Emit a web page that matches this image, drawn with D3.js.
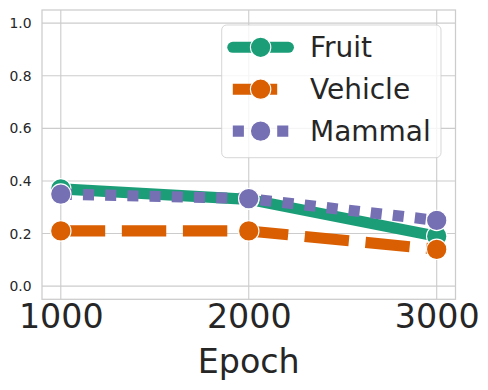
<!DOCTYPE html>
<html>
<head>
<meta charset="utf-8">
<script src="https://cdnjs.cloudflare.com/ajax/libs/d3/7.8.5/d3.min.js"></script>
<style>
    body { margin: 0; background: #fff; }
    text { font-family: "DejaVu Sans", sans-serif; fill: #262626; }
</style>
</head>
<body>
<div id="chart"></div>
<script>
// data
var epochs = [1000, 2000, 3000];
var fruit = [0.37, 0.33, 0.19];
var vehicle = [0.21, 0.21, 0.14];
var mammal = [0.35, 0.333, 0.25];
var seriesNames = ["Fruit", "Vehicle", "Mammal"];
var yTicks = [0.0, 0.2, 0.4, 0.6, 0.8, 1.0];

var colors = ["#1b9e77", "#d95f02", "#7570b3"];
var lw = 11.1;
var dashes = ["none", (4 * lw) + "," + (1.5 * lw), lw + "," + lw];
var caps = ["round", "butt", "butt"];

var margin = {top: 10, right: 32.5, bottom: 90.7, left: 42},
    width = 488 - margin.left - margin.right,
    height = 390 - margin.top - margin.bottom;

var x = d3.scaleLinear().domain([900, 3100]).range([0, width]);
var y = d3.scaleLinear().domain([-0.05, 1.05]).range([height, 0]);

var svg = d3.select("#chart").append("svg")
    .attr("width", 488)
    .attr("height", 390)
    .append("g")
    .attr("transform", "translate(" + margin.left + "," + margin.top + ")");

// grid
svg.selectAll(".ygrid")
    .data(yTicks)
    .enter().append("line")
    .attr("x1", 0).attr("x2", width)
    .attr("y1", function (d) { return y(d); })
    .attr("y2", function (d) { return y(d); })
    .attr("stroke", "#cccccc")
    .attr("stroke-width", 1.1);

svg.selectAll(".xgrid")
    .data(epochs)
    .enter().append("line")
    .attr("y1", 0).attr("y2", height)
    .attr("x1", function (d) { return x(d); })
    .attr("x2", function (d) { return x(d); })
    .attr("stroke", "#cccccc")
    .attr("stroke-width", 1.1);

// spines
svg.append("rect")
    .attr("width", width)
    .attr("height", height)
    .attr("fill", "none")
    .attr("stroke", "#cccccc")
    .attr("stroke-width", 1.25);

// Y axis
var yAxis = svg.append("g")
    .call(d3.axisLeft(y).tickValues(yTicks).tickSize(0).tickPadding(10.5)
        .tickFormat(d3.format(".1f")));
yAxis.select(".domain").remove();
yAxis.selectAll("text")
    .style("font-size", "13.9px")
    .style("font-family", "DejaVu Sans");

// X axis
var xAxis = svg.append("g")
    .attr("transform", "translate(0," + height + ")")
    .call(d3.axisBottom(x).tickValues(epochs).tickSize(0).tickPadding(5)
        .tickFormat(d3.format("d")));
xAxis.select(".domain").remove();
xAxis.selectAll("text")
    .style("font-size", "33.3px")
    .style("font-family", "DejaVu Sans");

// x label
svg.append("text")
    .attr("x", width / 2)
    .attr("y", 362.7)
    .style("text-anchor", "middle")
    .style("font-size", "33.3px")
    .text("Epoch");

// lines + markers, one series at a time
var allSeries = [fruit, vehicle, mammal];
var line = d3.line()
    .x(function (d, i) { return x(epochs[i]); })
    .y(function (d) { return y(d); });

allSeries.forEach(function (vals, k) {
    svg.append("path")
        .datum(vals)
        .attr("fill", "none")
        .attr("stroke", colors[k])
        .attr("stroke-width", lw)
        .attr("stroke-dasharray", dashes[k])
        .attr("stroke-linecap", caps[k])
        .attr("stroke-linejoin", "round")
        .attr("d", line);

    svg.selectAll(".dot" + k)
        .data(vals)
        .enter().append("circle")
        .attr("cx", function (d, i) { return x(epochs[i]); })
        .attr("cy", function (d) { return y(d); })
        .attr("r", 10.2)
        .attr("fill", colors[k])
        .attr("stroke", "#fff")
        .attr("stroke-width", 1.1);
});

// legend
var legend = svg.append("g")
    .attr("transform", "translate(" + (221.7 - margin.left) + "," + (25 - margin.top) + ")");

legend.append("rect")
    .attr("width", 219.3)
    .attr("height", 132.7)
    .attr("rx", 5)
    .attr("fill", "#fff")
    .attr("fill-opacity", 0.8)
    .attr("stroke", "#cccccc")
    .attr("stroke-opacity", 0.8)
    .attr("stroke-width", 1);

seriesNames.forEach(function (name, k) {
    var cy = 22.3 + k * 41.9;
    legend.append("line")
        .attr("x1", 11.1).attr("x2", 66.7)
        .attr("y1", cy).attr("y2", cy)
        .attr("stroke", colors[k])
        .attr("stroke-width", lw)
        .attr("stroke-dasharray", dashes[k])
        .attr("stroke-linecap", caps[k]);
    legend.append("circle")
        .attr("cx", 38.9).attr("cy", cy)
        .attr("r", 10.2)
        .attr("fill", colors[k])
        .attr("stroke", "#fff")
        .attr("stroke-width", 1.1);
    legend.append("text")
        .attr("x", 88.3)
        .attr("y", cy)
        .attr("dy", "0.35em")
        .style("font-size", "28px")
        .text(name);
});
</script>
</body>
</html>
